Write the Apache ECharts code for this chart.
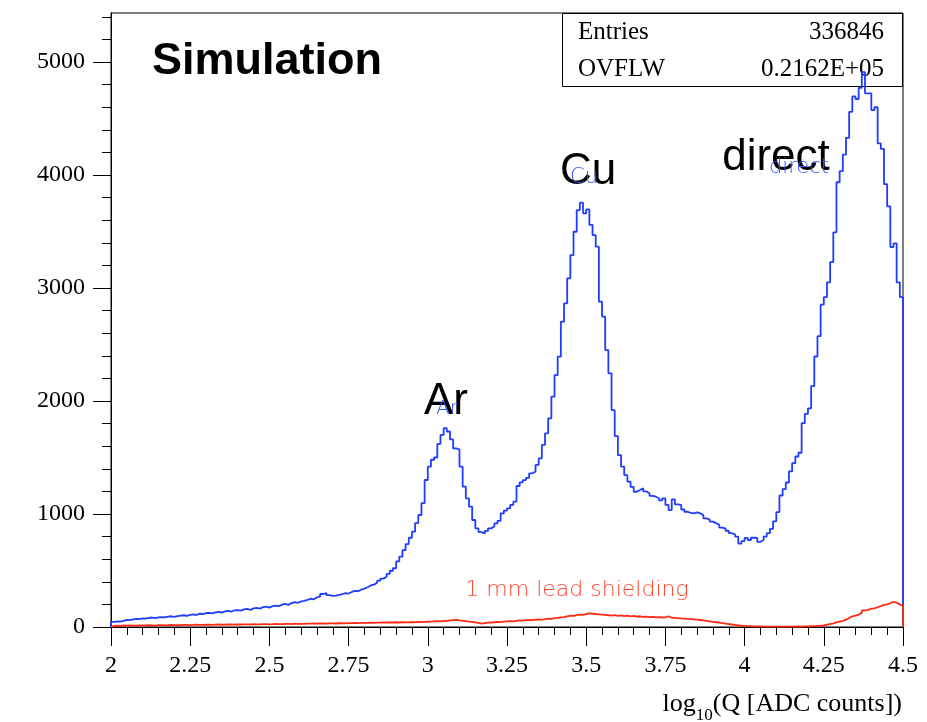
<!DOCTYPE html>
<html>
<head>
<meta charset="utf-8">
<script src="https://cdn.jsdelivr.net/npm/echarts@6/dist/echarts.min.js"></script>
<style>
  html, body { margin: 0; padding: 0; background: #fff; }
  #chart { width: 927px; height: 722px; }
</style>
</head>
<body>
<div id="chart"></div>
<script>
// Binning of the charge spectrum: 250 bins of log10(Q) from 2 to 4.5
const BIN_MIN = 2.0;
const BIN_WIDTH = 0.01;

// Counts per bin, full detector (blue)
const countsAll = [
  45, 50, 48, 55, 62, 60, 68, 72, 70, 76,
  74, 80, 84, 78, 86, 88, 85, 92, 95, 90,
  96, 100, 104, 98, 108, 112, 106, 118, 115, 122,
  126, 120, 130, 134, 128, 138, 142, 136, 148, 150,
  145, 156, 160, 152, 165, 170, 163, 176, 180, 172,
  185, 190, 184, 198, 205, 196, 212, 220, 214, 226,
  232, 240, 250, 245, 262, 270, 292, 300, 282, 275,
  278, 284, 290, 300, 296, 310, 320, 318, 330, 340,
  352, 368, 375, 392, 410, 428, 445, 470, 498, 520,
  580, 622, 680, 734, 790, 844, 920, 991, 1097, 1301,
  1419, 1480, 1500, 1620, 1700, 1760, 1730, 1660, 1580, 1570,
  1419, 1242, 1139, 1065, 947, 873, 840, 829, 850, 873,
  890, 917, 940, 1006, 1030, 1050, 1080, 1109, 1248, 1280,
  1300, 1320, 1360, 1375, 1434, 1493, 1611, 1714, 1847, 2038,
  2230, 2392, 2702, 2864, 3086, 3292, 3498, 3690, 3755, 3661,
  3696, 3558, 3469, 3366, 2879, 2746, 2451, 2245, 1920, 1690,
  1522, 1419, 1345, 1286, 1240, 1197, 1212, 1227, 1200, 1183,
  1160, 1153, 1139, 1120, 1139, 1080, 1035, 1130, 1085, 1080,
  1040, 1020, 1010, 1006, 1015, 1006, 990, 962, 950, 932,
  919, 905, 880, 870, 852, 830, 819, 800, 738, 760,
  788, 770, 790, 788, 754, 770, 800, 830, 869, 935,
  1017, 1164, 1220, 1279, 1377, 1450, 1509, 1542, 1804, 1886,
  1935, 2132, 2394, 2574, 2853, 2919, 3050, 3230, 3493, 3936,
  4034, 4181, 4329, 4559, 4696, 4673, 4772, 4910, 4723, 4723,
  4575, 4600, 4280, 4231, 3919, 3723, 3362, 3395, 3050, 2919
];

// Counts per bin with 1 mm lead shielding (red)
const countsLead = [
  10, 12, 10, 14, 12, 15, 13, 12, 15, 14,
  14, 16, 15, 13, 16, 17, 15, 16, 18, 16,
  17, 16, 18, 19, 17, 18, 20, 19, 18, 20,
  20, 19, 21, 22, 20, 21, 23, 22, 21, 23,
  22, 24, 23, 22, 25, 24, 23, 26, 25, 24,
  25, 27, 26, 25, 28, 27, 26, 29, 28, 27,
  28, 30, 29, 31, 30, 32, 31, 30, 33, 32,
  31, 33, 34, 32, 35, 34, 36, 35, 37, 36,
  36, 38, 37, 39, 38, 40, 39, 41, 40, 42,
  40, 42, 41, 43, 42, 44, 45, 43, 46, 48,
  47, 50, 52, 50, 54, 55, 58, 60, 62, 58,
  55, 52, 48, 45, 40, 36, 30, 34, 38, 40,
  42, 45, 44, 48, 50, 52, 50, 55, 58, 56,
  60, 62, 60, 65, 68, 66, 70, 75, 72, 78,
  80, 85, 88, 95, 100, 98, 105, 110, 108, 115,
  120, 118, 115, 112, 110, 108, 104, 100, 106, 98,
  102, 96, 100, 94, 98, 92, 95, 90, 92, 88,
  90, 86, 88, 84, 86, 95, 82, 80, 78, 76,
  75, 72, 70, 68, 65, 62, 58, 55, 50, 46,
  42, 38, 34, 30, 26, 22, 18, 15, 12, 10,
  8, 7, 6, 5, 5, 4, 4, 3, 3, 3,
  3, 3, 4, 3, 4, 4, 5, 4, 5, 6,
  7, 8, 10, 12, 15, 20, 26, 32, 40, 48,
  55, 65, 80, 95, 100, 110, 125, 147, 150, 163,
  165, 175, 185, 196, 200, 210, 223, 215, 200, 190
];

// Axis ticks
const xRange = [2, 4.5];
const xTickStep = 0.25;
const yMax = 5434;
const yMajorTicks = [0, 1000, 2000, 3000, 4000, 5000];
const yMinorStep = 200;

// Statistics box entries
const statsLabels = ['Entries', 'OVFLW'];
const statsValues = ['336846', '0.2162E+05'];

// Peak annotations
const peakNames = ['Ar', 'Cu', 'direct'];

// Outline of a histogram as step points at bin edges
function histogramOutline(counts) {
  const pts = [[BIN_MIN, 0]];
  counts.forEach((c, i) => pts.push([BIN_MIN + i * BIN_WIDTH, c]));
  const xEnd = BIN_MIN + counts.length * BIN_WIDTH;
  pts.push([xEnd, counts[counts.length - 1]]);
  pts.push([xEnd, 0]);
  return pts;
}

const yMinorTicks = [];
for (let v = 0; v <= yMax; v += yMinorStep) yMinorTicks.push(v);

const serif = 'Liberation Serif, Times New Roman, serif';
const axisFont = { fontFamily: serif, fontSize: 24, color: '#000' };

const chart = echarts.init(document.getElementById('chart'), null, { renderer: 'canvas' });

const option = {
  animation: false,
  backgroundColor: '#fff',
  grid: {
    left: 111, right: 24, top: 13, bottom: 95,
    show: true, borderColor: '#000', borderWidth: 1, backgroundColor: 'transparent'
  },
  xAxis: {
    type: 'value',
    min: xRange[0], max: xRange[1], interval: xTickStep,
    axisLine: { show: true, onZero: false, lineStyle: { color: '#000', width: 1 } },
    axisTick: { show: true, length: 19, lineStyle: { color: '#000', width: 1 } },
    minorTick: { show: true, splitNumber: 5, length: 8, lineStyle: { color: '#000', width: 1 } },
    axisLabel: Object.assign({ margin: 27, formatter: v => String(v) }, axisFont),
    splitLine: { show: false }
  },
  yAxis: [
    {
      type: 'value', min: 0, max: yMax,
      axisLine: { show: true, lineStyle: { color: '#000', width: 1 } },
      axisTick: { show: true, length: 9, customValues: yMinorTicks, lineStyle: { color: '#000', width: 1 } },
      axisLabel: { show: false },
      splitLine: { show: false }
    },
    {
      type: 'value', min: 0, max: yMax, position: 'left',
      axisLine: { show: true, lineStyle: { color: '#000', width: 1 } },
      axisTick: { show: true, length: 18, customValues: yMajorTicks, lineStyle: { color: '#000', width: 1 } },
      axisLabel: Object.assign({ margin: 26, customValues: yMajorTicks, formatter: v => String(v) }, axisFont),
      splitLine: { show: false }
    }
  ],
  series: [
    {
      name: 'all', type: 'line', step: 'end', showSymbol: false, symbol: 'none',
      data: histogramOutline(countsAll),
      lineStyle: { color: '#1f3cff', width: 1.8 },
      z: 3
    },
    {
      name: 'lead', type: 'line', step: 'end', showSymbol: false, symbol: 'none',
      data: histogramOutline(countsLead),
      lineStyle: { color: '#ff2a12', width: 1.8 },
      z: 4
    }
  ],
  graphic: [
    // statistics box
    {
      type: 'rect', z: 1,
      shape: { x: 562.5, y: 13.5, width: 340, height: 73 },
      style: { fill: '#fff', stroke: '#000', lineWidth: 1 }
    },
    { type: 'text', z: 2, x: 578, y: 32, style: { text: statsLabels[0], font: '25px ' + serif, fill: '#000', textVerticalAlign: 'middle' } },
    { type: 'text', z: 2, x: 884, y: 32, style: { text: statsValues[0], font: '25px ' + serif, fill: '#000', textAlign: 'right', textVerticalAlign: 'middle' } },
    { type: 'text', z: 2, x: 578, y: 69, style: { text: statsLabels[1], font: '25px ' + serif, fill: '#000', textVerticalAlign: 'middle' } },
    { type: 'text', z: 2, x: 884, y: 69, style: { text: statsValues[1], font: '25px ' + serif, fill: '#000', textAlign: 'right', textVerticalAlign: 'middle' } },
    // title
    { type: 'text', z: 5, x: 152, y: 62, style: { text: 'Simulation', font: 'bold 45px Liberation Sans, Arial, sans-serif', fill: '#000', textVerticalAlign: 'middle' } },
    // peak labels
    { type: 'text', z: 5, x: 446, y: 402, style: { text: peakNames[0], font: '44px Liberation Sans, Arial, sans-serif', fill: '#000', textAlign: 'center', textVerticalAlign: 'middle' } },
    { type: 'text', z: 5, x: 588, y: 172, style: { text: peakNames[1], font: '44px Liberation Sans, Arial, sans-serif', fill: '#000', textAlign: 'center', textVerticalAlign: 'middle' } },
    { type: 'text', z: 5, x: 776, y: 158, style: { text: peakNames[2], font: '44px Liberation Sans, Arial, sans-serif', fill: '#000', textAlign: 'center', textVerticalAlign: 'middle' } },
    { type: 'text', z: 6, x: 447, y: 409, style: { text: peakNames[0], font: '200 20px DejaVu Sans, sans-serif', fill: '#3355ff', textAlign: 'center', textVerticalAlign: 'middle' } },
    { type: 'text', z: 6, x: 584, y: 178, style: { text: peakNames[1], font: '200 21px DejaVu Sans, sans-serif', fill: '#3355ff', textAlign: 'center', textVerticalAlign: 'middle' } },
    { type: 'text', z: 6, x: 799, y: 168, style: { text: peakNames[2], font: '200 21px DejaVu Sans, sans-serif', fill: '#3355ff', textAlign: 'center', textVerticalAlign: 'middle' } },
    // shielding label
    { type: 'text', z: 5, x: 577, y: 590, style: { text: '1 mm lead shielding', font: '200 22px DejaVu Sans, sans-serif', fill: '#ff4a30', textAlign: 'center', textVerticalAlign: 'middle' } },
    // x axis title with subscript
    {
      type: 'text', z: 5, x: 902, y: 704,
      style: {
        text: '{a|log}{b|10}{a|(Q [ADC counts])}',
        textAlign: 'right', textVerticalAlign: 'middle',
        rich: {
          a: { fontFamily: serif, fontSize: 26, fill: '#000', color: '#000', lineHeight: 40, verticalAlign: 'middle' },
          b: { fontFamily: serif, fontSize: 17, fill: '#000', color: '#000', lineHeight: 40, verticalAlign: 'bottom' }
        }
      }
    }
  ]
};

chart.setOption(option);
</script>
</body>
</html>
